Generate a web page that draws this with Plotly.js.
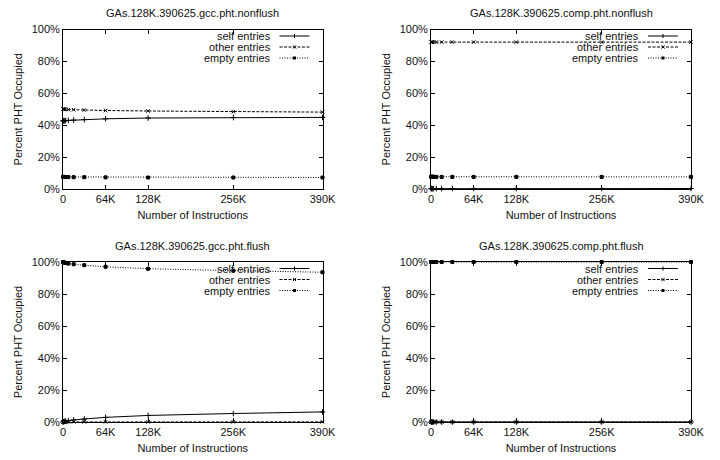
<!DOCTYPE html>
<html>
<head>
<meta charset="utf-8">
<script src="https://cdn.plot.ly/plotly-3.0.1.min.js"></script>
<style>html,body{margin:0;padding:0;background:#fff}#chart{width:720px;height:460px}</style>
</head>
<body>
<div id="chart"></div>
<script>
// Instruction counts (thousands)
const instr = [0, 1, 2, 4, 8, 16, 32, 64, 128, 256, 390];
const xTickVals = [0, 64, 128, 256, 390];
const xTickText = ['0', '64K', '128K', '256K', '390K'];
const yTickVals = [0, 20, 40, 60, 80, 100];
const yTickText = ['0%', '20%', '40%', '60%', '80%', '100%'];
const seriesNames = ['self entries', 'other entries', 'empty entries'];
const panelTitles = [
  'GAs.128K.390625.gcc.pht.nonflush',
  'GAs.128K.390625.comp.pht.nonflush',
  'GAs.128K.390625.gcc.pht.flush',
  'GAs.128K.390625.comp.pht.flush'
];

// Panel 1: gcc nonflush
const gccNonflushSelf  = [42.7, 42.8, 42.8, 42.9, 43.0, 43.2, 43.5, 44.0, 44.5, 44.8, 44.9];
const gccNonflushOther = [50.2, 50.1, 50.0, 49.9, 49.8, 49.7, 49.5, 49.2, 48.9, 48.5, 48.2];
const gccNonflushEmpty = [7.6, 7.6, 7.5, 7.5, 7.5, 7.4, 7.4, 7.3, 7.2, 7.2, 7.2];
// Panel 2: comp nonflush
const compNonflushSelf  = [0.2, 0.2, 0.2, 0.2, 0.3, 0.3, 0.3, 0.3, 0.3, 0.3, 0.3];
const compNonflushOther = [92.1, 92.1, 92.1, 92.1, 92.1, 92.1, 92.1, 92.1, 92.1, 92.1, 92.1];
const compNonflushEmpty = [7.7, 7.7, 7.7, 7.7, 7.6, 7.6, 7.6, 7.6, 7.6, 7.6, 7.6];
// Panel 3: gcc flush
const gccFlushSelf  = [0.0, 0.2, 0.4, 0.6, 0.9, 1.3, 1.9, 2.9, 4.1, 5.3, 6.3];
const gccFlushOther = [0.0, 0.0, 0.0, 0.0, 0.1, 0.1, 0.1, 0.1, 0.1, 0.1, 0.1];
const gccFlushEmpty = [100.0, 99.8, 99.6, 99.4, 99.0, 98.6, 98.0, 97.0, 95.8, 94.6, 93.6];
// Panel 4: comp flush
const compFlushSelf  = [0.0, 0.0, 0.0, 0.0, 0.0, 0.0, 0.0, 0.0, 0.0, 0.0, 0.0];
const compFlushOther = [0.0, 0.0, 0.0, 0.0, 0.0, 0.0, 0.0, 0.0, 0.0, 0.0, 0.0];
const compFlushEmpty = [100.0, 100.0, 100.0, 100.0, 100.0, 100.0, 100.0, 100.0, 100.0, 100.0, 100.0];

const panels = [
  [gccNonflushSelf, gccNonflushOther, gccNonflushEmpty],
  [compNonflushSelf, compNonflushOther, compNonflushEmpty],
  [gccFlushSelf, gccFlushOther, gccFlushEmpty],
  [compFlushSelf, compFlushOther, compFlushEmpty]
];

const W = 720, H = 460;
const FONT = 'Liberation Sans, Arial, Helvetica, sans-serif';
const TXT = '#111';
// plot boxes in pixels: [left, right, top, bottom]
const boxes = [
  [63, 322.5, 29.5, 189],
  [431, 691, 29.5, 189],
  [63, 322.5, 262, 422],
  [431, 691, 262, 422]
];
const styles = [
  {dash: 'solid', symbol: 'cross-thin', size: 4},
  {dash: '3px,1.5px', symbol: 'x-thin', size: 3.5},
  {dash: '1px,1.5px', symbol: 'square', size: 3}
];

const traces = [];
const layout = {
  width: W, height: H,
  margin: {l: 0, r: 0, t: 0, b: 0},
  paper_bgcolor: '#fff', plot_bgcolor: '#fff',
  showlegend: false,
  font: {family: FONT, size: 11, color: TXT},
  annotations: [], shapes: []
};

function px(x) { return x / W; }
function py(y) { return 1 - y / H; }

panels.forEach((series, i) => {
  const n = i + 1;
  const xa = 'x' + (n === 1 ? '' : n), ya = 'y' + (n === 1 ? '' : n);
  const b = boxes[i];
  series.forEach((vals, s) => {
    traces.push({
      type: 'scatter', mode: 'lines+markers',
      x: instr, y: vals, xaxis: xa, yaxis: ya,
      name: seriesNames[s],
      cliponaxis: false,
      line: {color: '#000', width: 1, dash: styles[s].dash},
      marker: {symbol: styles[s].symbol, size: styles[s].size, color: '#000',
               line: {color: '#000', width: 1}}
    });
  });
  const axBase = {
    showline: true, linecolor: '#000', linewidth: 1, mirror: 'ticks',
    ticks: 'inside', ticklen: 4, tickcolor: '#000', tickwidth: 1,
    showgrid: false, zeroline: false,
    tickfont: {family: FONT, size: 11, color: TXT}
  };
  layout['xaxis' + (n === 1 ? '' : n)] = Object.assign({}, axBase, {
    domain: [px(b[0]), px(b[1])], anchor: ya,
    range: [0, 390], tickmode: 'array', tickvals: xTickVals, ticktext: xTickText,
    title: {text: 'Number of Instructions', font: {family: FONT, size: 11, color: TXT}, standoff: 7}
  });
  layout['yaxis' + (n === 1 ? '' : n)] = Object.assign({}, axBase, {
    domain: [py(b[3]), py(b[2])], anchor: xa,
    range: [0, 100], tickmode: 'array', tickvals: yTickVals, ticktext: yTickText,
    title: {text: 'Percent PHT Occupied', font: {family: FONT, size: 11, color: TXT}, standoff: 6}
  });
  // panel title
  layout.annotations.push({
    xref: 'paper', yref: 'paper', x: px((b[0] + b[1]) / 2), y: py(b[2] - 16),
    text: panelTitles[i], showarrow: false, xanchor: 'center', yanchor: 'middle',
    font: {family: FONT, size: 11, color: TXT}
  });
  // legend (gnuplot style: text right-aligned, sample to the right)
  const textRight = b[1] - 50;
  const l0 = b[1] - 43, l1 = b[1] - 13;
  const rows = [b[2] + 6.5, b[2] + 17.5, b[2] + 28.5];
  rows.forEach((ry, s) => {
    layout.annotations.push({
      xref: 'paper', yref: 'paper', x: px(textRight), y: py(ry),
      text: seriesNames[s], showarrow: false, xanchor: 'right', yanchor: 'middle',
      font: {family: FONT, size: 11, color: TXT}
    });
    layout.shapes.push({
      type: 'line', xref: 'paper', yref: 'paper',
      x0: px(l0), x1: px(l1), y0: py(ry), y1: py(ry),
      line: {color: '#000', width: 1, dash: styles[s].dash}
    });
    const mx = (l0 + l1) / 2;
    if (s === 0) {
      layout.shapes.push({type: 'line', xref: 'paper', yref: 'paper', x0: px(mx), x1: px(mx), y0: py(ry - 2), y1: py(ry + 2), line: {color: '#000', width: 1}});
    } else if (s === 1) {
      layout.shapes.push({type: 'line', xref: 'paper', yref: 'paper', x0: px(mx - 1.6), x1: px(mx + 1.6), y0: py(ry - 1.6), y1: py(ry + 1.6), line: {color: '#000', width: 1}});
      layout.shapes.push({type: 'line', xref: 'paper', yref: 'paper', x0: px(mx - 1.6), x1: px(mx + 1.6), y0: py(ry + 1.6), y1: py(ry - 1.6), line: {color: '#000', width: 1}});
    } else {
      layout.shapes.push({type: 'rect', xref: 'paper', yref: 'paper', x0: px(mx - 1.5), x1: px(mx + 1.5), y0: py(ry - 1.5), y1: py(ry + 1.5), fillcolor: '#000', line: {color: '#000', width: 0}});
    }
  });
});

Plotly.newPlot('chart', traces, layout, {displayModeBar: false, staticPlot: true});
</script>
</body>
</html>
